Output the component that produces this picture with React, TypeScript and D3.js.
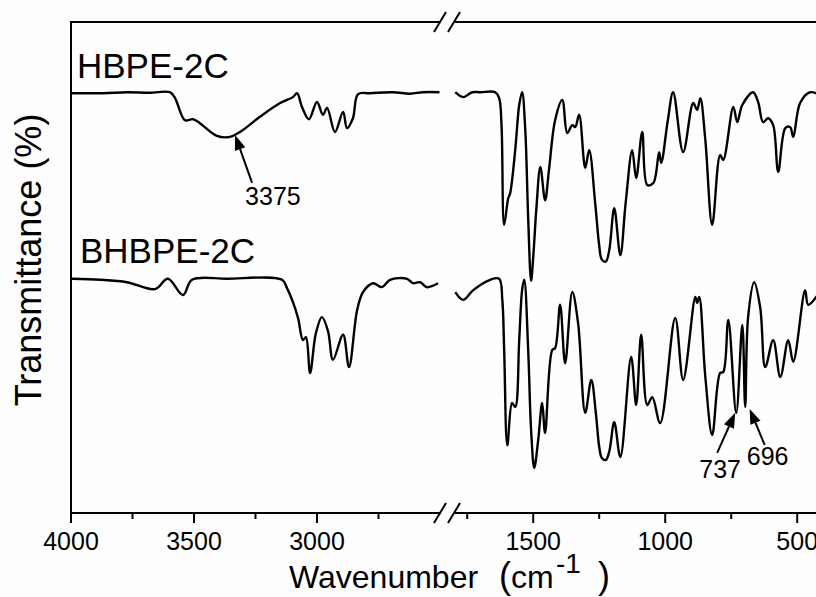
import React from 'react';
import * as d3 from 'd3';

// ---------- data ----------
const hbpeLeftWn = [3996, 3870, 3772, 3679, 3598, 3577, 3537, 3504, 3476, 3407, 3354, 3313, 3232, 3150, 3098, 3081, 3061, 3033, 3000, 2976, 2959, 2927, 2894, 2878, 2854, 2833, 2785, 2691, 2622, 2569, 2502];
const hbpeLeftT = [85.5, 85.5, 85.7, 85.6, 85.7, 84.5, 80.0, 80.2, 79.4, 76.8, 76.6, 77.6, 80.7, 83.5, 84.7, 85.5, 82.7, 80.2, 83.7, 81.1, 82.5, 77.6, 81.7, 78.4, 80.4, 85.3, 85.5, 85.7, 85.4, 85.7, 85.7];

const hbpeRightWn = [1795, 1765, 1731, 1700, 1644, 1629, 1620, 1610, 1595, 1587, 1568, 1553, 1542, 1530, 1519, 1508, 1500, 1488, 1473, 1455, 1440, 1417, 1390, 1371, 1352, 1341, 1326, 1303, 1288, 1265, 1250, 1240, 1225, 1212, 1193, 1170, 1150, 1125, 1110, 1087, 1068, 1045, 1023, 1015, 990, 970, 932, 894, 879, 867, 848, 822, 792, 780, 742, 727, 708, 667, 648, 629, 610, 591, 572, 545, 527, 515, 489, 451, 402];
const hbpeRightT = [85.7, 84.7, 85.7, 85.7, 85.7, 84.5, 79.0, 58.7, 64.0, 65.2, 74.0, 83.1, 85.7, 78.0, 60.0, 47.3, 52.0, 62.0, 70.5, 63.7, 70.0, 80.0, 84.1, 77.4, 79.0, 78.6, 81.1, 70.3, 73.9, 63.0, 54.5, 51.6, 51.2, 53.5, 62.1, 52.5, 63.0, 73.9, 68.2, 77.6, 66.8, 67.2, 73.5, 71.3, 80.0, 85.7, 73.5, 83.5, 82.1, 84.5, 76.0, 58.7, 72.9, 71.9, 82.7, 79.6, 83.1, 85.7, 83.7, 79.6, 80.4, 79.0, 69.5, 78.4, 78.6, 76.6, 83.5, 85.7, 84.7];

const bhbpeLeftWn = [3996, 3880, 3772, 3659, 3606, 3545, 3508, 3366, 3142, 3122, 3098, 3077, 3057, 3045, 3028, 3005, 2980, 2955, 2935, 2894, 2870, 2837, 2813, 2772, 2736, 2703, 2634, 2610, 2581, 2553, 2508];
const bhbpeLeftT = [47.7, 47.5, 47.0, 45.6, 47.7, 44.4, 47.5, 47.7, 47.5, 45.8, 43.0, 39.7, 35.2, 35.8, 28.5, 36.5, 39.9, 37.0, 31.2, 36.3, 29.7, 41.3, 45.0, 46.8, 46.0, 47.5, 47.7, 46.8, 47.0, 46.0, 46.8];

const bhbpeRightWn = [1795, 1765, 1727, 1663, 1629, 1617, 1610, 1598, 1580, 1568, 1553, 1542, 1534, 1519, 1508, 1496, 1481, 1466, 1455, 1428, 1417, 1398, 1379, 1352, 1330, 1303, 1280, 1262, 1250, 1240, 1225, 1212, 1193, 1170, 1129, 1110, 1091, 1068, 1049, 1019, 962, 932, 886, 879, 871, 848, 822, 792, 780, 761, 731, 708, 697, 686, 663, 640, 621, 591, 564, 534, 515, 470, 458, 402];
const bhbpeRightT = [45.0, 43.4, 45.4, 47.5, 47.7, 43.4, 33.2, 13.8, 22.4, 21.6, 35.2, 45.4, 47.5, 33.2, 16.9, 9.2, 14.9, 22.4, 16.3, 33.2, 33.6, 42.4, 30.5, 45.0, 38.7, 20.4, 27.1, 20.0, 13.5, 11.2, 10.8, 12.5, 18.5, 11.4, 31.8, 22.0, 36.3, 22.0, 23.6, 18.3, 39.7, 27.1, 44.0, 42.8, 44.0, 27.7, 15.9, 28.5, 28.7, 39.3, 20.4, 38.3, 21.6, 39.9, 47.0, 41.8, 29.7, 35.2, 27.7, 35.2, 30.8, 45.4, 42.4, 46.0];

const leftMajorTicks = [4000, 3500, 3000];
const leftMinorTicks = [3750, 3250, 2750];
const rightMajorTicks = [1500, 1000, 500];
const rightMinorTicks = [1750, 1250, 750];

const seriesNames = ['HBPE-2C', 'BHBPE-2C'];
const annotationLabels = ['3375', '737', '696'];
const annotationWn = [3333, 735, 680];
const annotationT = [77.0, 20.4, 21.2];

const FONT = '"Liberation Sans", Arial, sans-serif';

export default function App() {
  const xL = d3.scaleLinear().domain([4000, 2500]).range([71, 440]);
  const xR = d3.scaleLinear().domain([1800, 400]).range([454, 823.6]);
  const y = d3.scaleLinear().domain([0, 100]).range([513, 22]);

  const mk = (x: d3.ScaleLinear<number, number>, wn: number[], t: number[]) =>
    d3.line<number>()
      .x((_, i) => x(wn[i]))
      .y((_, i) => y(t[i]))
      .curve(d3.curveCatmullRom.alpha(0.5))(wn) || '';

  const paths = [
    mk(xL, hbpeLeftWn, hbpeLeftT),
    mk(xR, hbpeRightWn, hbpeRightT),
    mk(xL, bhbpeLeftWn, bhbpeLeftT),
    mk(xR, bhbpeRightWn, bhbpeRightT),
  ];

  const top = y(100);
  const bottom = y(0);
  const x0 = xL(4000);
  const brk1 = 441;
  const brk2 = 455;

  const slash = (cx: number, cy: number, key: string) => (
    <line key={key} x1={cx - 6} y1={cy + 10} x2={cx + 6} y2={cy - 10} stroke="#000" strokeWidth={2} />
  );

  const annX = [xL(annotationWn[0]), xR(annotationWn[1]), xR(annotationWn[2])];
  const annY = annotationT.map((v) => y(v));
  const tailOff = [[17, 48], [-18, 40], [15, 36]];
  const labelPos = [[10, 70], [-15, 65], [18, 56]];

  const arrow = (i: number) => {
    const tx = annX[i], ty = annY[i];
    const sx = tx + tailOff[i][0], sy = ty + tailOff[i][1];
    const ang = Math.atan2(ty - sy, tx - sx);
    const hl = 15, hw = 5.5;
    const bx = tx - hl * Math.cos(ang), by = ty - hl * Math.sin(ang);
    const px = -Math.sin(ang) * hw, py = Math.cos(ang) * hw;
    return (
      <g key={'a' + i}>
        <line x1={sx} y1={sy} x2={bx} y2={by} stroke="#000" strokeWidth={2} />
        <polygon points={`${tx},${ty} ${bx + px},${by + py} ${bx - px},${by - py}`} fill="#000" />
      </g>
    );
  };

  return (
    <div style={{ position: 'absolute', left: 0, top: 0, width: 816, height: 597, background: '#fff' }}>
      <svg width={816} height={597} style={{ display: 'block' }} fontFamily={FONT}>
        <rect width={816} height={597} fill="#fefefe" />
        {/* frame */}
        <line x1={x0} y1={top} x2={x0} y2={bottom} stroke="#000" strokeWidth={2} />
        <line x1={x0 - 1} y1={top} x2={brk1} y2={top} stroke="#000" strokeWidth={2} />
        <line x1={brk2} y1={top} x2={816} y2={top} stroke="#000" strokeWidth={2} />
        <line x1={x0 - 1} y1={bottom} x2={brk1} y2={bottom} stroke="#000" strokeWidth={2} />
        <line x1={brk2} y1={bottom} x2={816} y2={bottom} stroke="#000" strokeWidth={2} />
        {slash(brk1 - 1, top, 's1')}
        {slash(brk2 - 1, top, 's2')}
        {slash(brk1 - 1, bottom, 's3')}
        {slash(brk2 - 1, bottom, 's4')}
        {/* ticks */}
        {leftMajorTicks.map((t) => (
          <g key={'lM' + t}>
            <line x1={xL(t)} x2={xL(t)} y1={bottom} y2={bottom + 10} stroke="#000" strokeWidth={2} />
            <text x={xL(t)} y={550} fontSize={25} textAnchor="middle">{t}</text>
          </g>
        ))}
        {leftMinorTicks.map((t) => (
          <line key={'lm' + t} x1={xL(t)} x2={xL(t)} y1={bottom} y2={bottom + 6} stroke="#000" strokeWidth={2} />
        ))}
        {rightMajorTicks.map((t) => (
          <g key={'rM' + t}>
            <line x1={xR(t)} x2={xR(t)} y1={bottom} y2={bottom + 10} stroke="#000" strokeWidth={2} />
            <text x={xR(t)} y={550} fontSize={25} textAnchor="middle">{t}</text>
          </g>
        ))}
        {rightMinorTicks.map((t) => (
          <line key={'rm' + t} x1={xR(t)} x2={xR(t)} y1={bottom} y2={bottom + 6} stroke="#000" strokeWidth={2} />
        ))}
        {/* spectra */}
        {paths.map((d, i) => (
          <path key={'p' + i} d={d} fill="none" stroke="#000" strokeWidth={2.4} strokeLinejoin="round" />
        ))}
        {/* series labels */}
        <text x={77} y={78} fontSize={35}>{seriesNames[0]}</text>
        <text x={80} y={263} fontSize={35}>{seriesNames[1]}</text>
        {/* annotations */}
        {[0, 1, 2].map((i) => arrow(i))}
        {annotationLabels.map((s, i) => (
          <text key={'al' + i} x={annX[i] + labelPos[i][0]} y={annY[i] + labelPos[i][1]} fontSize={25} textAnchor={i === 0 ? 'start' : 'middle'}>{s}</text>
        ))}
        {/* axis titles */}
        <text transform="translate(41,260) rotate(-90)" fontSize={36} textAnchor="middle">Transmittance (%)</text>
        <text y={588} fontSize={32}>
          <tspan x={289}>Wavenumber</tspan>
          <tspan x={499} fontSize={36}>(</tspan>
          <tspan x={511}>cm</tspan>
          <tspan x={556} dy={-15} fontSize={28}>-1</tspan>
          <tspan x={598} dy={15} fontSize={36}>)</tspan>
        </text>
      </svg>
    </div>
  );
}
